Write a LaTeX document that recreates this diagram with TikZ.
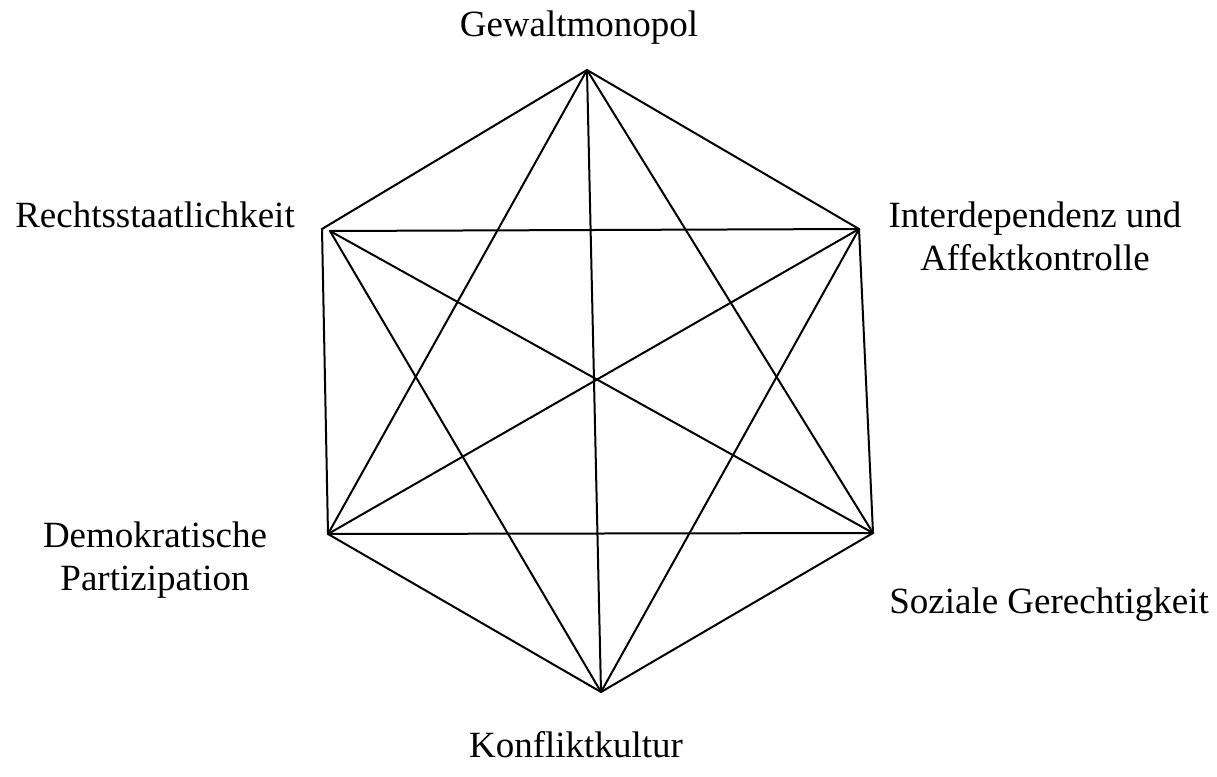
\documentclass[tikz,border=0pt]{standalone}
\usepackage{fontspec}
\setmainfont{Liberation Serif}
\begin{document}
\begin{tikzpicture}[x=1pt,y=-1pt,
  edge/.style={line width=2pt, line join=miter, line cap=round},
  lbl/.style={font=\fontsize{37}{43}\selectfont, inner sep=0pt, align=center, anchor=base}]
\useasboundingbox (0,0) rectangle (1217,776);
\coordinate (T) at (587,70);
\coordinate (UR) at (859,229);
\coordinate (LR) at (873,533);
\coordinate (B) at (601,692);
\coordinate (LL) at (328,534);
\coordinate (UL) at (322,229);
\coordinate (ULd) at (330,231);
% hexagon
\draw[edge] (T) -- (UR) -- (LR) -- (B) -- (LL) -- (UL) -- cycle;
% diagonals
\draw[edge] (T) -- (LR);
\draw[edge] (T) -- (B);
\draw[edge] (T) -- (LL);
\draw[edge] (UR) -- (B);
\draw[edge] (UR) -- (LL);
\draw[edge] (UR) -- (ULd);
\draw[edge] (LR) -- (LL);
\draw[edge] (LR) -- (ULd);
\draw[edge] (B) -- (ULd);
% labels
\node[lbl] (gm) at (579,37) {Gewaltmonopol};
\node[lbl] (rs) at (155,227) {Rechtsstaatlichkeit};
\node[lbl] (ia) at (1035,270) {Interdependenz und\\Affektkontrolle};
\node[lbl] (dp) at (155,590) {Demokratische\\Partizipation};
\node[lbl] (sg) at (1049,613) {Soziale Gerechtigkeit};
\node[lbl] (kk) at (576,757) {Konfliktkultur};
\end{tikzpicture}
\end{document}
